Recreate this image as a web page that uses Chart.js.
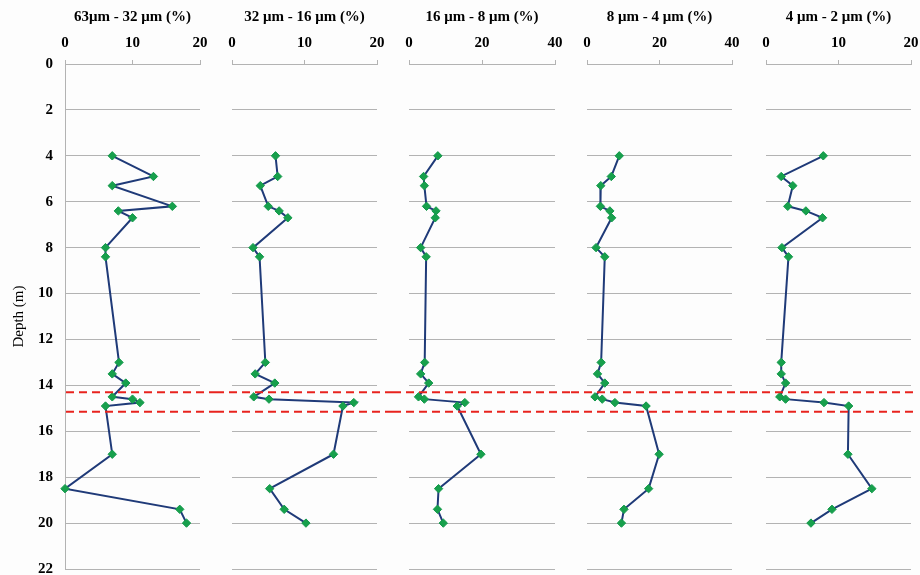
<!DOCTYPE html>
<html>
<head>
<meta charset="utf-8">
<script src="https://cdn.jsdelivr.net/npm/chart.js@4.4.1/dist/chart.umd.min.js"></script>
<style>
  html, body { margin: 0; padding: 0; background: #fdfdfd; }
  #wrap { position: relative; width: 920px; height: 575px; overflow: hidden; }
  #wrap canvas { position: absolute; top: 0; }
</style>
</head>
<body>
<div id="wrap"></div>
<script>
// Sample depths (m), shared by every grain-size fraction
const depths = [4.0, 4.9, 5.3, 6.2, 6.4, 6.7, 8.0, 8.4, 13.0, 13.5, 13.9, 14.5, 14.6, 14.75, 14.9, 17.0, 18.5, 19.4, 20.0];

// Percentage of each grain-size fraction at those depths
const frac63to32 = [7.0, 13.1, 7.0, 15.9, 7.9, 10.0, 6.0, 6.0, 8.0, 7.0, 9.0, 7.0, 10.0, 11.1, 6.0, 7.0, 0.0, 17.0, 18.0];
const frac32to16 = [6.0, 6.3, 3.9, 5.0, 6.5, 7.7, 2.9, 3.8, 4.6, 3.2, 5.9, 3.0, 5.1, 16.8, 15.3, 14.0, 5.2, 7.2, 10.2];
const frac16to8  = [7.9, 4.0, 4.2, 4.8, 7.4, 7.2, 3.2, 4.7, 4.3, 3.2, 5.4, 2.6, 4.2, 15.3, 13.2, 19.7, 8.1, 7.8, 9.4];
const frac8to4   = [8.9, 6.7, 3.8, 3.7, 6.3, 6.8, 2.5, 4.9, 3.9, 2.9, 4.9, 2.2, 4.2, 7.7, 16.3, 19.9, 17.0, 10.2, 9.5];
const frac4to2   = [7.9, 2.1, 3.7, 3.0, 5.5, 7.8, 2.2, 3.1, 2.1, 2.1, 2.7, 1.9, 2.7, 8.0, 11.4, 11.3, 14.6, 9.1, 6.2];

const panelTitles = ['63\u03bcm - 32 \u03bcm (%)', '32 \u03bcm - 16 \u03bcm (%)', '16 \u03bcm - 8 \u03bcm (%)', '8 \u03bcm - 4 \u03bcm (%)', '4 \u03bcm - 2 \u03bcm (%)'];
const panelSeries = [frac63to32, frac32to16, frac16to8, frac8to4, frac4to2];

// Percentage axis range and tick step per panel
const percentMax  = [20, 20, 40, 40, 20];
const percentStep = [10, 10, 20, 20, 10];

// Depth axis
const depthMin = 0, depthMax = 22, depthStep = 2;
const depthTitle = 'Depth (m)';

// Depths of the two dashed boundary lines
const boundaryDepths = [14.3, 15.15];

// Canvas placement of each panel (px)
const panelLayout = [
  { left: 0,   width: 216, axisWidth: 65, padRight: 16 },
  { left: 216, width: 177, axisWidth: 16, padRight: 16 },
  { left: 393, width: 178, axisWidth: 16, padRight: 16 },
  { left: 571, width: 178, axisWidth: 16, padRight: 17 },
  { left: 749, width: 171, axisWidth: 17, padRight: 9 }
];

const SERIF = "'Liberation Serif', 'Times New Roman', serif";
const GRID = '#b3b3b3';

// Draws the dashed boundary lines across the whole panel width
const boundaryLines = {
  id: 'boundaryLines',
  afterDatasetsDraw(chart, args, opts) {
    const { ctx, chartArea, scales } = chart;
    const x0 = opts.first ? chartArea.left + 1 : 0;
    const x1 = opts.last ? chartArea.right + 4 : chart.width;
    ctx.save();
    ctx.strokeStyle = '#e8231e';
    ctx.lineWidth = 2;
    ctx.setLineDash([8, 5]);
    boundaryDepths.forEach(d => {
      const y = scales.y.getPixelForValue(d);
      ctx.beginPath();
      ctx.moveTo(x0, y);
      ctx.lineTo(x1, y);
      ctx.stroke();
    });
    ctx.restore();
  }
};

const wrap = document.getElementById('wrap');

panelSeries.forEach((series, i) => {
  const lay = panelLayout[i];
  const canvas = document.createElement('canvas');
  canvas.style.left = lay.left + 'px';
  canvas.style.width = lay.width + 'px';
  canvas.style.height = '575px';
  canvas.width = lay.width;
  canvas.height = 575;
  wrap.appendChild(canvas);

  const first = i === 0;
  const points = series.map((v, k) => ({ x: v, y: depths[k] }));

  new Chart(canvas, {
    type: 'scatter',
    data: {
      datasets: [{
        data: points,
        showLine: true,
        borderColor: '#1f3a78',
        borderWidth: 2,
        pointStyle: 'rectRot',
        pointRadius: 4.2,
        pointBorderWidth: 1,
        pointBackgroundColor: '#17a04c',
        pointBorderColor: '#12984a',
        clip: false
      }]
    },
    options: {
      responsive: false,
      animation: false,
      events: [],
      layout: { padding: { top: 8, right: lay.padRight, bottom: 6, left: 0 } },
      plugins: {
        legend: { display: false },
        tooltip: { enabled: false },
        boundaryLines: { first: first, last: i === panelSeries.length - 1 }
      },
      scales: {
        x: {
          type: 'linear',
          position: 'top',
          min: 0,
          max: percentMax[i],
          ticks: {
            stepSize: percentStep[i],
            color: '#000',
            padding: 8,
            font: { family: SERIF, size: 15, weight: 'bold' }
          },
          grid: { drawOnChartArea: false, drawTicks: true, tickLength: 4, color: GRID },
          border: { display: true, color: GRID, width: 1 },
          title: {
            display: true,
            text: panelTitles[i],
            color: '#000',
            padding: { top: 0, bottom: 4 },
            font: { family: SERIF, size: 15, weight: 'bold' }
          },
          afterFit(scale) {
            scale.height = 56;
            scale.paddingLeft = 0;
            scale.paddingRight = 0;
          }
        },
        y: {
          type: 'linear',
          reverse: true,
          min: depthMin,
          max: depthMax,
          ticks: {
            display: first,
            stepSize: depthStep,
            color: '#000',
            padding: 12,
            font: { family: SERIF, size: 15, weight: 'bold' }
          },
          grid: { color: GRID, drawTicks: false, lineWidth: 1 },
          border: { display: first, color: GRID, width: 1 },
          title: {
            display: first,
            text: depthTitle,
            color: '#000',
            padding: { top: 10, bottom: 0 },
            font: { family: SERIF, size: 15 }
          },
          afterFit(scale) {
            scale.width = lay.axisWidth;
            scale.paddingTop = 0;
            scale.paddingBottom = 0;
          }
        }
      }
    },
    plugins: [boundaryLines]
  });
});
</script>
</body>
</html>
